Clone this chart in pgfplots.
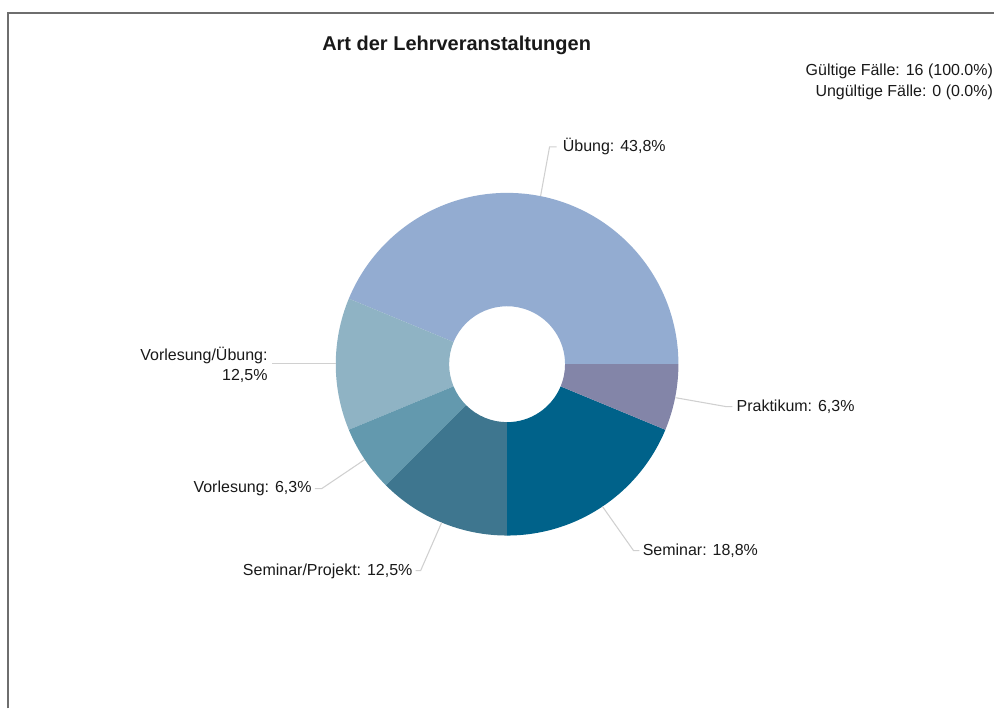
\documentclass[border=0pt]{standalone}
\usepackage{fontspec}
\setmainfont{Liberation Sans}
\usepackage{pgfplots}
\usepackage{pgfplotstable}
\pgfplotsset{compat=1.18}

\definecolor{cUbung}{RGB}{147,172,209}
\definecolor{cVU}{RGB}{143,179,196}
\definecolor{cV}{RGB}{99,153,174}
\definecolor{cSP}{RGB}{62,118,143}
\definecolor{cS}{RGB}{0,98,138}
\definecolor{cP}{RGB}{131,133,168}
\definecolor{leader}{RGB}{208,208,208}
\definecolor{frame}{RGB}{110,110,110}
\definecolor{txt}{RGB}{25,25,25}

% counts per category (16 valid cases), counter-clockwise from 0 degrees
\pgfplotstableread{
name count color
Uebung 7 cUbung
VorlesungUebung 2 cVU
Vorlesung 1 cV
SeminarProjekt 2 cSP
Seminar 3 cS
Praktikum 1 cP
}\slicedata

\begin{document}
\begin{tikzpicture}
\begin{axis}[
  scale only axis,
  width=746.25pt, height=531.75pt,
  xmin=0, xmax=995, ymin=0, ymax=709,
  hide axis, clip=false,
]
\path (axis cs:0,0) rectangle (axis cs:995,709);
% frame
\draw[frame, line width=1.2pt] (axis cs:8,0) -- (axis cs:8,696) -- (axis cs:995,696);

% slices
\def\total{0}
\pgfplotsforeachungrouped \i in {0,...,5}{%
  \pgfplotstablegetelem{\i}{count}\of\slicedata
  \pgfmathsetmacro\newtotal{\total+\pgfplotsretval}%
  \global\let\total\newtotal
}
\def\cum{0}
\pgfplotsforeachungrouped \i in {0,...,5}{%
  \pgfplotstablegetelem{\i}{count}\of\slicedata
  \pgfmathsetmacro\a{\cum*360/\total}%
  \pgfmathsetmacro\newcum{\cum+\pgfplotsretval}%
  \pgfmathsetmacro\b{\newcum*360/\total}%
  \global\let\cum\newcum
  \pgfplotstablegetelem{\i}{color}\of\slicedata
  \edef\cmd{\noexpand\fill[\pgfplotsretval, shift={(axis cs:507.5,344.5)}]
    (\a:128.6pt) arc[start angle=\a, end angle=\b, radius=128.6pt]
    -- (\b:43.5pt) arc[start angle=\b, end angle=\a, radius=43.5pt] -- cycle;}%
  \cmd
}

% leader lines
\draw[leader, line width=0.8pt] (axis cs:541,512.7) -- (axis cs:550,562) -- (axis cs:557,562);
\draw[leader, line width=0.8pt] (axis cs:336,345) -- (axis cs:272,345);
\draw[leader, line width=0.8pt] (axis cs:365,249) -- (axis cs:322,220) -- (axis cs:315,220);
\draw[leader, line width=0.8pt] (axis cs:442,186) -- (axis cs:421,138) -- (axis cs:416,138);
\draw[leader, line width=0.8pt] (axis cs:603,202) -- (axis cs:634,158) -- (axis cs:640,158);
\draw[leader, line width=0.8pt] (axis cs:676,311) -- (axis cs:727,302) -- (axis cs:733,302);

% labels
\begin{scope}[every node/.style={inner sep=0pt, text=txt, font=\fontsize{12}{14.5}\selectfont}]
\node[anchor=west] at (axis cs:563,562) {Übung: 43,8\%};
\node[anchor=east, align=right] at (axis cs:268,344) {Vorlesung/Übung:\\12,5\%};
\node[anchor=east] at (axis cs:312,220) {Vorlesung: 6,3\%};
\node[anchor=east] at (axis cs:413,137) {Seminar/Projekt: 12,5\%};
\node[anchor=west] at (axis cs:643,158) {Seminar: 18,8\%};
\node[anchor=west] at (axis cs:737,302) {Praktikum: 6,3\%};
\node[anchor=east] at (axis cs:994,638) {Gültige Fälle: 16 (100.0\%)};
\node[anchor=east] at (axis cs:994,617) {Ungültige Fälle: 0 (0.0\%)};
\end{scope}
\node[inner sep=0pt, text=txt, font=\fontsize{15}{18}\selectfont\bfseries] at (axis cs:457,664) {Art der Lehrveranstaltungen};
\end{axis}
\end{tikzpicture}
\end{document}
